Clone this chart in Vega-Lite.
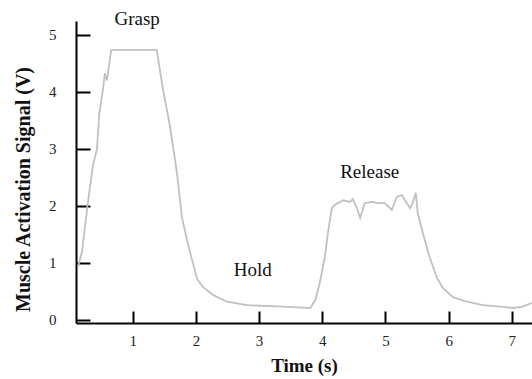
{
  "$schema": "https://vega.github.io/schema/vega-lite/v6.json",
  "autosize": "none",
  "width": 456,
  "height": 302,
  "padding": {"left": 76, "top": 21, "right": 0, "bottom": 56},
  "background": "white",
  "config": {"view": {"stroke": null}, "font": "Liberation Serif"},
  "datasets": {
    "signal": [
      {"t": 0.135, "v": 0.93}, {"t": 0.198, "v": 1.2}, {"t": 0.29, "v": 2.05}, {"t": 0.37, "v": 2.7},
      {"t": 0.435, "v": 3.0}, {"t": 0.47, "v": 3.6}, {"t": 0.53, "v": 4.05}, {"t": 0.56, "v": 4.33},
      {"t": 0.59, "v": 4.2}, {"t": 0.61, "v": 4.33}, {"t": 0.66, "v": 4.74}, {"t": 1.38, "v": 4.74},
      {"t": 1.48, "v": 4.04}, {"t": 1.59, "v": 3.4}, {"t": 1.7, "v": 2.58}, {"t": 1.78, "v": 1.8},
      {"t": 1.86, "v": 1.4}, {"t": 1.94, "v": 1.05}, {"t": 2.02, "v": 0.72}, {"t": 2.11, "v": 0.58},
      {"t": 2.27, "v": 0.44}, {"t": 2.49, "v": 0.32}, {"t": 2.81, "v": 0.26}, {"t": 3.01, "v": 0.25},
      {"t": 3.3, "v": 0.24}, {"t": 3.6, "v": 0.22}, {"t": 3.81, "v": 0.21}, {"t": 3.89, "v": 0.35},
      {"t": 3.96, "v": 0.65}, {"t": 4.04, "v": 1.1}, {"t": 4.09, "v": 1.53}, {"t": 4.15, "v": 1.96},
      {"t": 4.2, "v": 2.02}, {"t": 4.33, "v": 2.1}, {"t": 4.44, "v": 2.07}, {"t": 4.48, "v": 2.12},
      {"t": 4.55, "v": 1.96}, {"t": 4.6, "v": 1.79}, {"t": 4.67, "v": 2.05}, {"t": 4.79, "v": 2.07},
      {"t": 4.87, "v": 2.05}, {"t": 4.99, "v": 2.05}, {"t": 5.1, "v": 1.93}, {"t": 5.18, "v": 2.16},
      {"t": 5.26, "v": 2.19}, {"t": 5.31, "v": 2.1}, {"t": 5.39, "v": 1.96}, {"t": 5.43, "v": 2.05},
      {"t": 5.48, "v": 2.23}, {"t": 5.51, "v": 1.88}, {"t": 5.59, "v": 1.53}, {"t": 5.7, "v": 1.1},
      {"t": 5.81, "v": 0.75}, {"t": 5.91, "v": 0.56}, {"t": 6.07, "v": 0.4}, {"t": 6.29, "v": 0.32},
      {"t": 6.54, "v": 0.26}, {"t": 6.86, "v": 0.23}, {"t": 7.02, "v": 0.21}, {"t": 7.16, "v": 0.23},
      {"t": 7.32, "v": 0.3}
    ],
    "labels": [
      {"t": 1.07, "v": 5.28, "label": "Grasp"},
      {"t": 2.9, "v": 0.88, "label": "Hold"},
      {"t": 4.75, "v": 2.6, "label": "Release"}
    ]
  },
  "layer": [
    {
      "data": {"name": "signal"},
      "mark": {"type": "line", "color": "#c0c0c0", "strokeWidth": 1.8, "clip": true},
      "encoding": {
        "x": {
          "field": "t", "type": "quantitative",
          "scale": {"domain": [0.103, 7.319], "nice": false, "zero": false},
          "axis": {
            "title": "Time (s)", "values": [1, 2, 3, 4, 5, 6, 7], "format": "d", "grid": false,
            "domainColor": "black", "domainWidth": 2, "tickColor": "black", "tickWidth": 2,
            "tickSize": -12, "labelPadding": 22, "labelFontSize": 15, "labelColor": "#222",
            "titleFontSize": 19, "titleFontWeight": "bold", "titleColor": "#111", "titlePadding": 8,
            "labelFont": "Liberation Serif", "titleFont": "Liberation Serif"
          }
        },
        "y": {
          "field": "v", "type": "quantitative",
          "scale": {"domain": [-0.053, 5.245], "nice": false, "zero": false},
          "axis": {
            "title": "Muscle Activation Signal (V)", "values": [0, 1, 2, 3, 4, 5], "format": "d", "grid": false,
            "domainColor": "black", "domainWidth": 2, "tickColor": "black", "tickWidth": 2,
            "tickSize": -14, "labelPadding": 34, "labelFontSize": 15, "labelColor": "#222",
            "titleFontSize": 20, "titleFontWeight": "bold", "titleColor": "#111",
            "titleX": -53, "titleY": 168, "titleBaseline": "middle", "titleAngle": -90, "titleAlign": "center",
            "labelFont": "Liberation Serif", "titleFont": "Liberation Serif"
          }
        }
      }
    },
    {
      "data": {"name": "labels"},
      "mark": {"type": "text", "font": "Liberation Serif", "fontSize": 19, "color": "#111"},
      "encoding": {
        "x": {"field": "t", "type": "quantitative"},
        "y": {"field": "v", "type": "quantitative"},
        "text": {"field": "label"}
      }
    }
  ]
}
